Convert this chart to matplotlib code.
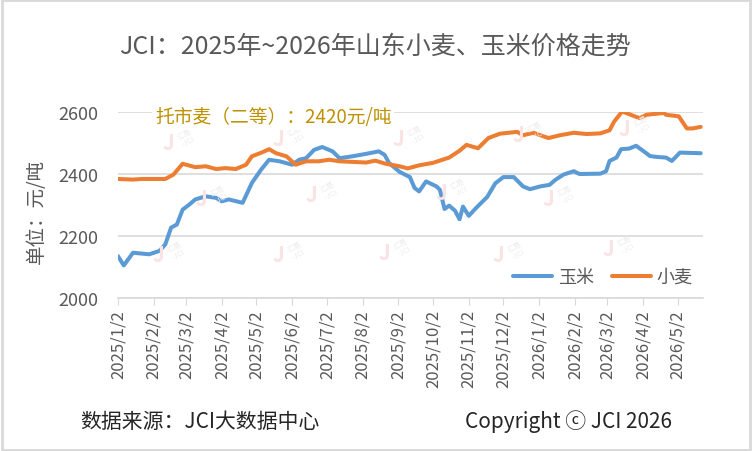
import numpy as np
import pandas as pd
import matplotlib
matplotlib.use('Agg')
import matplotlib.pyplot as plt
from matplotlib.patches import Rectangle

plt.rcParams['font.family'] = ['Noto Sans CJK SC', 'DejaVu Sans']

# 玉米 (corn) price, yuan/ton
corn_dates = ['2025-01-02', '2025-01-07', '2025-01-15', '2025-01-29', '2025-02-07', '2025-02-12',
              '2025-02-17', '2025-02-22', '2025-02-27', '2025-03-05', '2025-03-10', '2025-03-19',
              '2025-03-28', '2025-04-02', '2025-04-08', '2025-04-20', '2025-04-24', '2025-04-28',
              '2025-05-06', '2025-05-13', '2025-05-22', '2025-06-02', '2025-06-08', '2025-06-14',
              '2025-06-21', '2025-06-28', '2025-07-07', '2025-07-13', '2025-07-24', '2025-08-05',
              '2025-08-16', '2025-08-21', '2025-08-25', '2025-09-03', '2025-09-12', '2025-09-16',
              '2025-09-20', '2025-09-26', '2025-10-05', '2025-10-08', '2025-10-12', '2025-10-16',
              '2025-10-21', '2025-10-25', '2025-10-28', '2025-11-02', '2025-11-09', '2025-11-18',
              '2025-11-25', '2025-12-02', '2025-12-11', '2025-12-19', '2025-12-25', '2026-01-03',
              '2026-01-11', '2026-01-16', '2026-01-23', '2026-02-01', '2026-02-06', '2026-02-24',
              '2026-03-01', '2026-03-04', '2026-03-10', '2026-03-14', '2026-03-21', '2026-03-27',
              '2026-04-02', '2026-04-08', '2026-04-14', '2026-04-22', '2026-04-27', '2026-05-04',
              '2026-05-22']
corn = [2135, 2105, 2146, 2141, 2152, 2173,
        2227, 2237, 2285, 2302, 2318, 2328,
        2323, 2312, 2318, 2307, 2339, 2371,
        2414, 2446, 2441, 2430, 2446, 2451,
        2478, 2487, 2473, 2451, 2457, 2465,
        2473, 2462, 2435, 2407, 2390, 2355,
        2344, 2376, 2360, 2349, 2287, 2298,
        2282, 2254, 2295, 2265, 2293, 2326,
        2370, 2390, 2390, 2360, 2351, 2360,
        2365, 2381, 2398, 2409, 2400, 2401,
        2409, 2442, 2453, 2480, 2482, 2491,
        2475, 2458, 2455, 2453, 2442, 2469,
        2467]

# 小麦 (wheat) price, yuan/ton
wheat_dates = ['2025-01-02', '2025-01-15', '2025-01-23', '2025-02-12', '2025-02-19', '2025-02-27',
               '2025-03-10', '2025-03-19', '2025-03-28', '2025-04-05', '2025-04-14', '2025-04-23',
               '2025-04-28', '2025-05-07', '2025-05-13', '2025-05-19', '2025-05-28', '2025-06-05',
               '2025-06-14', '2025-06-25', '2025-07-04', '2025-07-13', '2025-08-05', '2025-08-13',
               '2025-08-22', '2025-09-03', '2025-09-10', '2025-09-20', '2025-10-02', '2025-10-16',
               '2025-10-25', '2025-10-31', '2025-11-10', '2025-11-19', '2025-11-29', '2025-12-14',
               '2025-12-19', '2025-12-28', '2026-01-10', '2026-01-20', '2026-02-01', '2026-02-12',
               '2026-02-24', '2026-03-04', '2026-03-08', '2026-03-15', '2026-03-21', '2026-03-30',
               '2026-04-05', '2026-04-20', '2026-04-22', '2026-05-03', '2026-05-10', '2026-05-15',
               '2026-05-22']
wheat = [2384, 2382, 2384, 2384, 2398, 2433,
         2422, 2425, 2416, 2419, 2416, 2430,
         2457, 2470, 2480, 2467, 2457, 2430,
         2441, 2441, 2446, 2441, 2437, 2443,
         2433, 2425, 2418, 2428, 2436, 2453,
         2475, 2494, 2483, 2516, 2530, 2536,
         2525, 2533, 2516, 2525, 2533, 2529,
         2531, 2541, 2569, 2602, 2593, 2580,
         2591, 2597, 2591, 2586, 2547, 2547,
         2552]

tick_dates = ['2025-01-02', '2025-02-02', '2025-03-02', '2025-04-02', '2025-05-02', '2025-06-02',
              '2025-07-02', '2025-08-02', '2025-09-02', '2025-10-02', '2025-11-02', '2025-12-02',
              '2026-01-02', '2026-02-02', '2026-03-02', '2026-04-02', '2026-05-02']
tick_labels = ['2025/1/2', '2025/2/2', '2025/3/2', '2025/4/2', '2025/5/2', '2025/6/2',
               '2025/7/2', '2025/8/2', '2025/9/2', '2025/10/2', '2025/11/2', '2025/12/2',
               '2026/1/2', '2026/2/2', '2026/3/2', '2026/4/2', '2026/5/2']

# faint watermark spots (pixels)
wm_x = [177, 287, 407, 527, 633, 210, 320, 450, 557, 167, 287, 393, 507, 617]
wm_y = [140, 137, 137, 133, 127, 197, 193, 190, 197, 253, 253, 250, 253, 247]

W, H = 752, 452
fig = plt.figure(figsize=(W / 100, H / 100), dpi=100)
fig.patches.append(Rectangle((0.002, 0.003), 0.996, 0.994, transform=fig.transFigure,
                             fill=False, edgecolor='#D9D9D9', linewidth=2))

ax = fig.add_axes([118 / W, (H - 299) / H, (703 - 118) / W, (299 - 113) / H])

# watermarks
for x, y in zip(wm_x, wm_y):
    fig.text((x - 8) / W, 1 - (y + 3) / H, 'J', fontsize=15, color='#FBE3E3',
             ha='center', va='center', fontweight='bold', zorder=0)
    fig.text((x + 10) / W, 1 - (y - 2) / H, '汇易\n-JCI', fontsize=5.5, color='#EDEDED',
             ha='center', va='center', rotation=30, linespacing=1.0, zorder=0)

ax.patch.set_alpha(0)
ax.plot(pd.to_datetime(corn_dates), corn, color='#5B9BD5', lw=2.9, label='玉米',
        solid_joinstyle='round', solid_capstyle='round')
ax.plot(pd.to_datetime(wheat_dates), wheat, color='#ED7D31', lw=2.9, label='小麦',
        solid_joinstyle='round', solid_capstyle='round')

ax.set_ylim(2000, 2600)
ax.set_yticks([2000, 2200, 2400, 2600])
ax.set_xlim(pd.Timestamp('2025-01-02'), pd.Timestamp('2026-05-24'))
ax.set_xticks(pd.to_datetime(tick_dates))
ax.set_xticklabels(tick_labels, rotation=90)
ax.tick_params(axis='x', length=5, color='#D9D9D9', labelsize=12, labelcolor='#595959', pad=3)
ax.tick_params(axis='y', length=0, labelsize=13, labelcolor='#595959', pad=14)
ax.grid(axis='y', color='#D9D9D9', lw=1.2)
ax.set_axisbelow(True)
for s in ['top', 'right', 'left']:
    ax.spines[s].set_visible(False)
ax.spines['bottom'].set_color('#D9D9D9')
ax.spines['bottom'].set_linewidth(1.2)

ax.set_ylabel('单位：元/吨', fontsize=14, color='#595959')
ax.yaxis.set_label_coords(-(118 - 47) / (703 - 118), 0.47)

fig.text(155 / W, 1 - 118 / H, '托市麦（二等）：2420元/吨', fontsize=13.5,
         color='#BF9000', va='center', ha='left',
         bbox=dict(facecolor='white', edgecolor='none', pad=2))

leg = ax.legend(loc='center right', bbox_to_anchor=(0.995, 0.113), ncol=2, frameon=False,
                fontsize=13, handlelength=2.2, columnspacing=1.0, handletextpad=0.3,
                borderaxespad=0)
for txt in leg.get_texts():
    txt.set_color('#595959')

fig.text(375 / W, 1 - 47 / H, 'JCI：2025年~2026年山东小麦、玉米价格走势', fontsize=18,
         color='#595959', ha='center', va='center')
fig.text(80 / W, 1 - 422 / H, '数据来源：JCI大数据中心', fontsize=15, color='#262626',
         ha='left', va='center')
fig.text(672 / W, 1 - 422 / H, 'Copyright ⓒ JCI 2026', fontsize=15, color='#262626',
         ha='right', va='center')

fig.savefig('out.png', dpi=100)
